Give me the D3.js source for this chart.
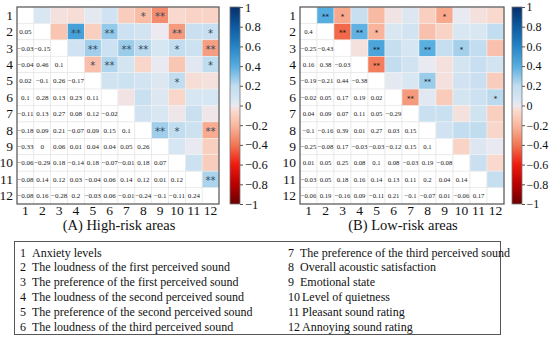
<!DOCTYPE html>
<html>
<head>
<meta charset="utf-8">
<script src="https://cdn.jsdelivr.net/npm/d3@7"></script>
<style>
  body { margin: 0; background: #fff; }
  svg { display: block; }
</style>
</head>
<body>
<svg width="550" height="338"></svg>
<script>
// variable numbers 1..12
var vars = ["1","2","3","4","5","6","7","8","9","10","11","12"];

var varNames = [
    "Anxiety levels",
    "The loudness of the first perceived sound",
    "The preference of the first perceived sound",
    "The loudness of the second perceived sound",
    "The preference of the second perceived sound",
    "The loudness of the third perceived sound",
    "The preference of the third perceived sound",
    "Overall acoustic satisfaction",
    "Emotional state",
    "Level of quietness",
    "Pleasant sound rating",
    "Annoying sound rating"
];

// lower triangle, row i holds r(i, 1..i-1)
var highRisk = [
    [],
    [0.05],
    [-0.03, -0.15],
    [-0.04, 0.46, 0.1],
    [0.02, -0.1, 0.26, -0.17],
    [0.1, 0.28, 0.13, 0.23, 0.11],
    [-0.11, 0.13, 0.27, 0.08, 0.12, -0.02],
    [-0.18, 0.09, 0.21, -0.07, 0.09, 0.15, 0.1],
    [-0.33, 0, 0.06, 0.01, 0.04, 0.04, 0.05, 0.26],
    [-0.06, -0.29, 0.18, -0.14, 0.18, -0.07, -0.01, 0.18, 0.07],
    [-0.08, 0.14, 0.12, 0.03, -0.04, 0.06, 0.14, 0.12, 0.01, 0.12],
    [-0.08, 0.16, -0.28, 0.2, -0.03, 0.06, -0.01, -0.24, -0.1, -0.11, 0.24]
];

var lowRisk = [
    [],
    [0.4],
    [-0.25, -0.43],
    [0.16, 0.38, -0.03],
    [-0.19, -0.21, 0.44, -0.38],
    [-0.02, 0.05, 0.17, 0.19, 0.02],
    [0.04, 0.09, 0.07, 0.11, 0.05, -0.29],
    [-0.1, -0.16, 0.39, 0.01, 0.27, 0.03, 0.15],
    [-0.25, -0.08, 0.17, -0.03, -0.03, -0.12, 0.15, 0.1],
    [0.01, 0.05, 0.25, 0.08, 0.1, 0.08, -0.03, 0.19, -0.08],
    [-0.03, 0.05, 0.18, 0.16, 0.14, 0.13, 0.11, 0.2, 0.04, 0.14],
    [-0.06, 0.19, -0.16, 0.09, -0.11, 0.21, -0.1, -0.07, 0.01, -0.06, 0.17]
];

// significance marks in upper triangle: [row, col, mark]
var highStars = [
    [1, 8, "*"], [1, 9, "**"],
    [2, 4, "**"], [2, 6, "**"], [2, 10, "**"], [2, 12, "*"],
    [3, 5, "**"], [3, 7, "**"], [3, 8, "**"], [3, 10, "*"], [3, 12, "**"],
    [4, 5, "*"], [4, 6, "**"], [4, 12, "*"],
    [5, 10, "*"],
    [8, 9, "**"], [8, 10, "*"], [8, 12, "**"],
    [11, 12, "**"]
];

var lowStars = [
    [1, 2, "**"], [1, 3, "*"], [1, 9, "*"],
    [2, 3, "**"], [2, 4, "**"], [2, 5, "*"],
    [3, 5, "**"], [3, 8, "**"], [3, 10, "*"],
    [4, 5, "**"],
    [5, 8, "**"],
    [6, 7, "**"], [6, 12, "*"]
];

var cbTicks = [1, 0.8, 0.6, 0.4, 0.2, 0, -0.2, -0.4, -0.6, -0.8, -1];

var serif = "Liberation Serif";
var svg = d3.select("svg");

var color = d3.scaleLinear()
    .domain([-1, -0.8, -0.6, -0.4, -0.2, -0.05, 0, 0.05, 0.2, 0.4, 0.6, 0.8, 1])
    .range(["#6b0000", "#b80000", "#f01a10", "#f27654", "#f9b8a0", "#f9dbd0", "#ece9f0",
            "#d9e7f3", "#c0dcef", "#55ade0", "#2484c6", "#0d5aa0", "#08306b"])
    .interpolate(d3.interpolateRgb)
    .clamp(true);

function fmt(v) {
    return String(v).replace("-", "\u2212");
}

// gradient for colour bars
var defs = svg.append("defs");
var grad = defs.append("linearGradient")
    .attr("id", "cbgrad")
    .attr("x1", 0).attr("y1", 1).attr("x2", 0).attr("y2", 0);
d3.range(0, 41).forEach(function (k) {
    var v = -1 + k * 0.05;
    grad.append("stop").attr("offset", (k / 40)).attr("stop-color", color(v));
});

function drawPanel(cfg) {
    var x = d3.scaleBand().domain(vars).range([cfg.x0, cfg.x1]);
    var y = d3.scaleBand().domain(vars).range([cfg.y0, cfg.y1]);
    var g = svg.append("g");

    var cells = [];
    cfg.data.forEach(function (row, i) {
        row.forEach(function (v, j) {
            cells.push({ r: i, c: j, v: v, lower: true });
            cells.push({ r: j, c: i, v: v, lower: false });
        });
    });

    // white background with faint grid
    g.selectAll(".bg")
        .data(d3.cross(vars, vars))
        .enter().append("rect")
        .attr("x", function (d) { return x(d[1]); })
        .attr("y", function (d) { return y(d[0]); })
        .attr("width", x.bandwidth())
        .attr("height", y.bandwidth())
        .attr("fill", "#fff")
        .attr("stroke", "#e4e4e4")
        .attr("stroke-width", 0.6);

    g.selectAll(".up")
        .data(cells.filter(function (d) { return !d.lower; }))
        .enter().append("rect")
        .attr("x", function (d) { return x(vars[d.c]); })
        .attr("y", function (d) { return y(vars[d.r]); })
        .attr("width", x.bandwidth())
        .attr("height", y.bandwidth())
        .attr("fill", function (d) { return color(d.v); })
        .attr("stroke", "#f4f4f4")
        .attr("stroke-width", 0.5);

    g.selectAll(".num")
        .data(cells.filter(function (d) { return d.lower; }))
        .enter().append("text")
        .attr("class", "serif")
        .attr("x", function (d) { return x(vars[d.c]) + x.bandwidth() / 2; })
        .attr("y", function (d) { return y(vars[d.r]) + y.bandwidth() / 2 + 2.5; })
        .attr("text-anchor", "middle")
        .attr("font-size", cfg.numSize)
        .attr("fill", "#222")
        .text(function (d) { return fmt(d.v); });

    g.selectAll(".star")
        .data(cfg.stars)
        .enter().append("text")
        .attr("x", function (d) { return x(vars[d[1] - 1]) + x.bandwidth() / 2; })
        .attr("y", function (d) { return y(vars[d[0] - 1]) + y.bandwidth() / 2 + cfg.starDy; })
        .attr("text-anchor", "middle")
        .attr("font-size", cfg.starSize)
        .style("font-family", "DejaVu Sans")
        .attr("fill", cfg.starColor)
        .text(function (d) { return d[2]; });

    // frame
    g.append("rect")
        .attr("x", cfg.x0).attr("y", cfg.y0)
        .attr("width", cfg.x1 - cfg.x0).attr("height", cfg.y1 - cfg.y0)
        .attr("fill", "none").attr("stroke", "#555").attr("stroke-width", 1.2);

    // axis labels
    g.selectAll(".rl")
        .data(vars)
        .enter().append("text")
        .attr("class", "serif")
        .attr("x", cfg.x0 - 4)
        .attr("y", function (d) { return y(d) + y.bandwidth() / 2 + 4.5; })
        .attr("text-anchor", "end")
        .attr("font-size", 13.5)
        .attr("fill", "#111")
        .text(function (d) { return d; });

    g.selectAll(".cl")
        .data(vars)
        .enter().append("text")
        .attr("class", "serif")
        .attr("x", function (d) { return x(d) + x.bandwidth() / 2; })
        .attr("y", cfg.y1 + 11)
        .attr("text-anchor", "middle")
        .attr("font-size", 13.5)
        .attr("fill", "#111")
        .text(function (d) { return d; });

    g.append("text")
        .attr("class", "serif")
        .attr("x", (cfg.x0 + cfg.x1) / 2 + 1)
        .attr("y", cfg.y1 + 26)
        .attr("text-anchor", "middle")
        .attr("font-size", 14.5)
        .attr("fill", "#111")
        .text(cfg.title);

    // colour bar
    var cb = d3.scaleLinear().domain([-1, 1]).range([cfg.y1, cfg.y0]);
    g.append("rect")
        .attr("x", cfg.cbx).attr("y", cfg.y0)
        .attr("width", 10).attr("height", cfg.y1 - cfg.y0)
        .attr("fill", "url(#cbgrad)")
        .attr("stroke", "#777").attr("stroke-width", 0.8);

    var ax = g.append("g")
        .attr("transform", "translate(" + (cfg.cbx + 10) + ",0)")
        .call(d3.axisRight(cb).tickValues(cbTicks).tickSize(3).tickPadding(cfg.cbPad)
            .tickFormat(function (d) { return fmt(d); }));
    ax.attr("font-family", null);
    ax.select(".domain").remove();
    ax.selectAll("line").attr("stroke", "#555");
    ax.selectAll("text")
        .attr("class", "serif")
        .attr("font-size", cfg.cbSize)
        .attr("fill", "#111");
}

drawPanel({
    data: highRisk, stars: highStars, title: "(A) High-risk areas",
    x0: 17, x1: 219, y0: 7, y1: 204, cbx: 230, cbPad: 2, cbSize: 12.5,
    numSize: 7, starSize: 10, starDy: 5, starColor: "#34495e"
});

drawPanel({
    data: lowRisk, stars: lowStars, title: "(B) Low-risk areas",
    x0: 300, x1: 504, y0: 7, y1: 204, cbx: 512, cbPad: 1.5, cbSize: 12,
    numSize: 6.7, starSize: 7, starDy: 3.5, starColor: "#111"
});

// legend box
var leg = svg.append("g");
leg.append("rect")
    .attr("x", 14.5).attr("y", 241.5)
    .attr("width", 486).attr("height", 93)
    .attr("fill", "none").attr("stroke", "#555").attr("stroke-width", 1);

leg.selectAll(".li")
    .data(varNames)
    .enter().append("text")
    .attr("class", "serif")
    .attr("x", function (d, i) { return i < 6 ? 20 : 288; })
    .attr("y", function (d, i) { return 256.5 + (i % 6) * 14.9; })
    .attr("font-size", 12)
    .attr("fill", "#111")
    .text(function (d, i) { return vars[i]; });

leg.selectAll(".ln")
    .data(varNames)
    .enter().append("text")
    .attr("class", "serif")
    .attr("x", function (d, i) { return i < 6 ? 32 : (i < 9 ? 300 : 302); })
    .attr("y", function (d, i) { return 256.5 + (i % 6) * 14.9; })
    .attr("font-size", 12)
    .attr("fill", "#111")
    .text(function (d) { return d; });

svg.selectAll("text.serif").style("font-family", serif);
</script>
</body>
</html>
